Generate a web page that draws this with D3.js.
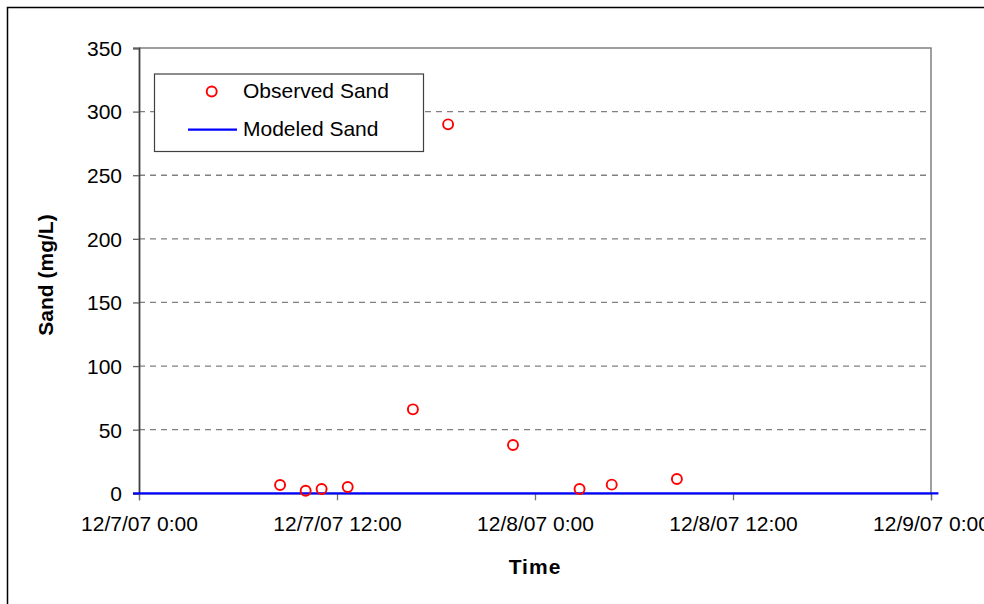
<!DOCTYPE html>
<html>
<head>
<meta charset="utf-8">
<script src="https://cdn.jsdelivr.net/npm/d3@7"></script>
<style>
  html, body { margin: 0; padding: 0; background: #fff; }
  svg { display: block; font-family: "Liberation Sans", Arial, sans-serif; }
</style>
</head>
<body>
<svg id="chart" width="984" height="604"></svg>
<script>
// Observed suspended sand samples (UTC timestamps, mg/L)
const observedTimes = [
  "2007-12-07T08:33", "2007-12-07T10:06", "2007-12-07T11:04", "2007-12-07T12:39",
  "2007-12-07T16:36", "2007-12-07T18:44", "2007-12-07T22:40", "2007-12-08T02:42",
  "2007-12-08T04:39", "2007-12-08T08:36"
];
const observedSand = [6.5, 2.0, 3.4, 5.0, 66, 290, 38, 3.4, 6.8, 11.2];

// Modeled sand concentration over the simulation period
const modeledTimes = [
  "2007-12-06T23:38", "2007-12-07T12:00", "2007-12-08T00:00",
  "2007-12-08T12:00", "2007-12-09T00:27"
];
const modeledSand = [0, 0, 0, 0, 0];

const yTicks = [0, 50, 100, 150, 200, 250, 300, 350];
const xTickLabels = ["12/7/07 0:00", "12/7/07 12:00", "12/8/07 0:00", "12/8/07 12:00", "12/9/07 0:00"];
const seriesNames = ["Observed Sand", "Modeled Sand"];
const axisTitles = { x: "Time", y: "Sand (mg/L)" };

const parse = d3.utcParse("%Y-%m-%dT%H:%M");
const observed = observedTimes.map((t, i) => ({ t: parse(t), v: observedSand[i] }));
const modeled = modeledTimes.map((t, i) => ({ t: parse(t), v: modeledSand[i] }));

const plot = { left: 139, right: 931, top: 48, bottom: 493.3 };
const svg = d3.select("#chart");

// Outer chart frame (runs off the right and bottom edges)
svg.append("rect")
  .attr("x", 7.5).attr("y", 7.5)
  .attr("width", 1010).attr("height", 630)
  .attr("fill", "#fff").attr("stroke", "#000").attr("stroke-width", 1.5);

const x = d3.scaleUtc()
  .domain([parse("2007-12-07T00:00"), parse("2007-12-09T00:00")])
  .range([plot.left, plot.right]);
const y = d3.scaleLinear().domain([0, 350]).range([plot.bottom, plot.top]);

// Dashed horizontal gridlines
svg.append("g").selectAll("line")
  .data(yTicks.filter(d => d > 0 && d < 350))
  .join("line")
  .attr("x1", plot.left).attr("x2", plot.right)
  .attr("y1", d => y(d)).attr("y2", d => y(d))
  .attr("stroke", "#808080").attr("stroke-width", 1.3)
  .attr("stroke-dasharray", "6,5");

// Plot frame: top and right edges
svg.append("path")
  .attr("d", `M${plot.left},${plot.top}H${plot.right}V${plot.bottom}`)
  .attr("fill", "none").attr("stroke", "#808080").attr("stroke-width", 1.5);

// Y axis
const yAxis = svg.append("g")
  .attr("transform", `translate(${plot.left},0)`)
  .call(d3.axisLeft(y).tickValues(yTicks).tickSize(6).tickPadding(11));
yAxis.select(".domain").attr("stroke", "#404040").attr("stroke-width", 1.8);
yAxis.selectAll(".tick line").attr("stroke", "#606060").attr("stroke-width", 1.3);
yAxis.selectAll(".tick text")
  .attr("font-size", 21).attr("fill", "#000")
  .attr("font-family", "Liberation Sans, Arial, sans-serif")
  .attr("dy", "0.35em");

// X axis (12-hour ticks)
const xTickValues = d3.utcHour.every(12).range(x.domain()[0], d3.utcHour.offset(x.domain()[1], 1));
const xAxis = svg.append("g")
  .attr("transform", `translate(0,${plot.bottom})`)
  .call(d3.axisBottom(x).tickValues(xTickValues)
    .tickFormat((d, i) => xTickLabels[i]).tickSize(7).tickPadding(16));
xAxis.select(".domain").attr("stroke", "#808080").attr("stroke-width", 1.3);
xAxis.selectAll(".tick line").attr("stroke", "#707070").attr("stroke-width", 1.3);
xAxis.selectAll(".tick text")
  .attr("font-size", 21).attr("fill", "#000")
  .attr("font-family", "Liberation Sans, Arial, sans-serif");

// Modeled series
svg.append("path")
  .datum(modeled)
  .attr("d", d3.line().x(d => x(d.t)).y(d => y(d.v)))
  .attr("fill", "none").attr("stroke", "#0000ff").attr("stroke-width", 2.2);

// Observed samples
svg.append("g").selectAll("circle")
  .data(observed)
  .join("circle")
  .attr("cx", d => x(d.t)).attr("cy", d => y(d.v))
  .attr("r", 5)
  .attr("fill", "none").attr("stroke", "#ff0000").attr("stroke-width", 1.9);

// Axis titles
svg.append("text")
  .attr("x", (plot.left + plot.right) / 2).attr("y", 574)
  .attr("text-anchor", "middle")
  .attr("font-size", 21).attr("font-weight", "bold")
  .attr("letter-spacing", 1)
  .text(axisTitles.x);
svg.append("text")
  .attr("transform", "translate(53,275) rotate(-90)")
  .attr("text-anchor", "middle")
  .attr("font-size", 21).attr("font-weight", "bold")
  .text(axisTitles.y);

// Legend
const legend = svg.append("g");
legend.append("rect")
  .attr("x", 154.5).attr("y", 74).attr("width", 269).attr("height", 77.5)
  .attr("fill", "#fff").attr("stroke", "#404040").attr("stroke-width", 1.2);
legend.append("circle")
  .attr("cx", 211.7).attr("cy", 91.5).attr("r", 5)
  .attr("fill", "none").attr("stroke", "#ff0000").attr("stroke-width", 1.9);
legend.append("line")
  .attr("x1", 188).attr("x2", 237).attr("y1", 129.7).attr("y2", 129.7)
  .attr("stroke", "#0000ff").attr("stroke-width", 2.2);
legend.selectAll("text.label")
  .data(seriesNames)
  .join("text")
  .attr("class", "label")
  .attr("x", 243).attr("y", (d, i) => i === 0 ? 97.5 : 136)
  .attr("font-size", 21).attr("fill", "#000")
  .text(d => d);
</script>
</body>
</html>
